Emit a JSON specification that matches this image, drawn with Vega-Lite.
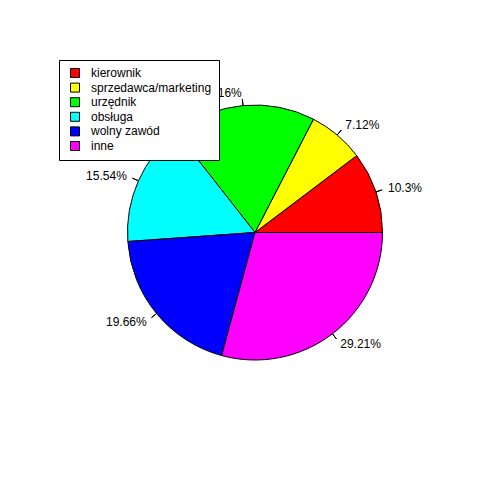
{
  "$schema": "https://vega.github.io/schema/vega-lite/v6.json",
  "autosize": {"type": "none"},
  "padding": {"left": 30, "top": 0, "right": 0, "bottom": 15},
  "width": 450,
  "height": 465,
  "background": "white",
  "config": {"view": {"stroke": null}},
  "data": {
    "values": [
      {"kat": "kierownik", "idx": 1, "pct": 10.3, "lab": "10.3%"},
      {"kat": "sprzedawca/marketing", "idx": 2, "pct": 7.12, "lab": "7.12%"},
      {"kat": "urzędnik", "idx": 3, "pct": 18.16, "lab": "18.16%"},
      {"kat": "obsługa", "idx": 4, "pct": 15.54, "lab": "15.54%"},
      {"kat": "wolny zawód", "idx": 5, "pct": 19.66, "lab": "19.66%"},
      {"kat": "inne", "idx": 6, "pct": 29.21, "lab": "29.21%"}
    ]
  },
  "encoding": {
    "theta": {"field": "pct", "type": "quantitative", "stack": true, "scale": {"range": [7.853981634, 1.570796327]}},
    "order": {"field": "idx", "type": "quantitative", "sort": "ascending"}
  },
  "layer": [
    {
      "mark": {"type": "arc", "outerRadius": 127.5, "stroke": "black", "strokeWidth": 1},
      "encoding": {
        "color": {
          "field": "kat", "type": "nominal",
          "scale": {
            "domain": ["kierownik", "sprzedawca/marketing", "urzędnik", "obsługa", "wolny zawód", "inne"],
            "range": ["#FF0000", "#FFFF00", "#00FF00", "#00FFFF", "#0000FF", "#FF00FF"]
          },
          "legend": {
            "orient": "none", "legendX": 29, "legendY": 60, "title": null,
            "strokeColor": "black", "fillColor": "white", "padding": 7,
            "symbolType": "square", "symbolSize": 81, "symbolStrokeColor": "black", "symbolStrokeWidth": 1,
            "symbolOffset": 3,
            "labelFontSize": 12, "labelFont": "Liberation Sans", "labelColor": "black",
            "labelOffset": 10, "rowPadding": 0.6, "cornerRadius": 0
          }
        }
      }
    },
    {
      "mark": {"type": "arc", "innerRadius": 127.5, "outerRadius": 134, "padAngle": 3, "fill": null, "stroke": "black", "strokeWidth": 1},
      "encoding": {}
    },
    {
      "mark": {"type": "text", "radius": 140.25, "align": "left", "baseline": "middle", "fontSize": 12, "font": "Liberation Sans", "color": "black"},
      "encoding": {
        "text": {"condition": {"test": "indexof(['kierownik','sprzedawca/marketing','inne'], datum.kat) >= 0", "field": "lab"}, "value": ""}
      }
    },
    {
      "mark": {"type": "text", "radius": 140.25, "align": "right", "baseline": "middle", "fontSize": 12, "font": "Liberation Sans", "color": "black"},
      "encoding": {
        "text": {"condition": {"test": "indexof(['kierownik','sprzedawca/marketing','inne'], datum.kat) < 0", "field": "lab"}, "value": ""}
      }
    }
  ]
}
